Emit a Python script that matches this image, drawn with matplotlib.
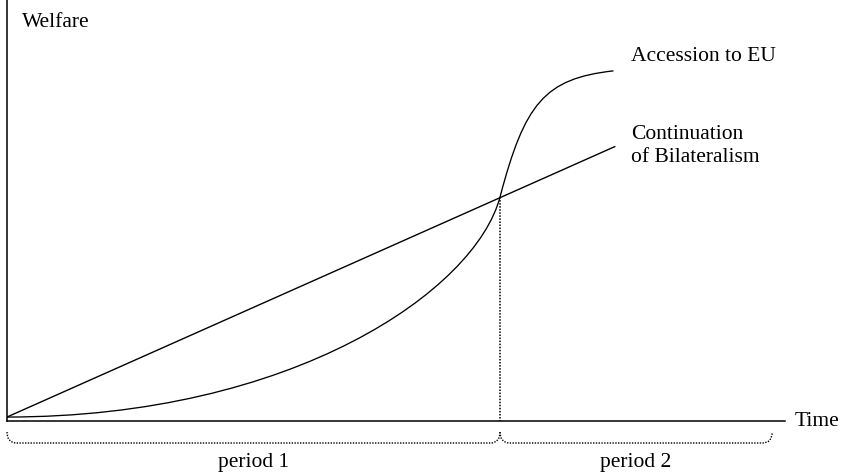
import matplotlib
matplotlib.use("Agg")
import matplotlib.pyplot as plt
from matplotlib.path import Path
from matplotlib.patches import PathPatch

plt.rcParams['font.family'] = ['Liberation Serif', 'DejaVu Serif']

# welfare paths (time, welfare in arbitrary units)
bilateral_t = [0.0, 6.17]
bilateral_w = [0.0, 12.3]

# accession path as two cubic bezier segments: start, ctrl, ctrl, end, ctrl, ctrl, end
accession_t = [0.0, 2.9, 4.75, 5.0, 5.25, 5.45, 6.15]
accession_w = [0.0, 0.0, 5.75, 10.0, 14.25, 15.38, 15.73]

period_edges = [0.0, 5.0, 7.76]
period_labels = ['period 1', 'period 2']
switch_t = 5.0
switch_w = 10.0

fig = plt.figure(figsize=(8.53, 4.74), dpi=100)
ax = fig.add_axes([7 / 853, 53 / 474, 778 / 853, 421 / 474])
ax.set_xlim(0, 7.89)
ax.set_ylim(-0.18, 18.95)

for s in ('top', 'right'):
    ax.spines[s].set_visible(False)
for s in ('left', 'bottom'):
    ax.spines[s].set_linewidth(1.1)
ax.set_xticks([])
ax.set_yticks([])

ax.plot(bilateral_t, bilateral_w, color='black', lw=1.0, solid_capstyle='butt')

codes = [Path.MOVETO] + [Path.CURVE4] * (len(accession_t) - 1)
ax.add_patch(PathPatch(Path(list(zip(accession_t, accession_w)), codes),
                       fill=False, color='black', lw=0.95))

ax.plot([switch_t, switch_t], [switch_w, -0.18], color='black', lw=1.1,
        linestyle=(0, (1, 1)))

# braces under the time axis
top, bot = -0.68, -1.18
for i, (a, b) in enumerate(zip(period_edges[:-1], period_edges[1:])):
    verts = [(a, top), (a, bot), (a + 0.1, bot),
             (b - 0.1, bot), (b, bot), (b, top)]
    bcodes = [Path.MOVETO, Path.CURVE3, Path.CURVE3,
              Path.LINETO, Path.CURVE3, Path.CURVE3]
    ax.add_patch(PathPatch(Path(verts, bcodes), fill=False, color='black',
                           lw=1.0, linestyle=(0, (1, 1)), clip_on=False))
    ax.text((a + b) / 2, -2.05, period_labels[i],
            ha='center', va='center', fontsize=15.5)

ax.text(0.152, 17.95, 'Welfare', ha='left', va='center', fontsize=15.5)
ax.text(7.99, -0.18, 'Time', ha='left', va='center', fontsize=15.5, clip_on=False)
ax.text(6.33, 16.36, 'Accession to EU', ha='left', va='center', fontsize=15.5)
ax.text(6.33, 12.3, 'Continuation\nof Bilateralism', ha='left', va='center',
        fontsize=15.5, linespacing=1.3)

fig.savefig('out.png', dpi=100)
